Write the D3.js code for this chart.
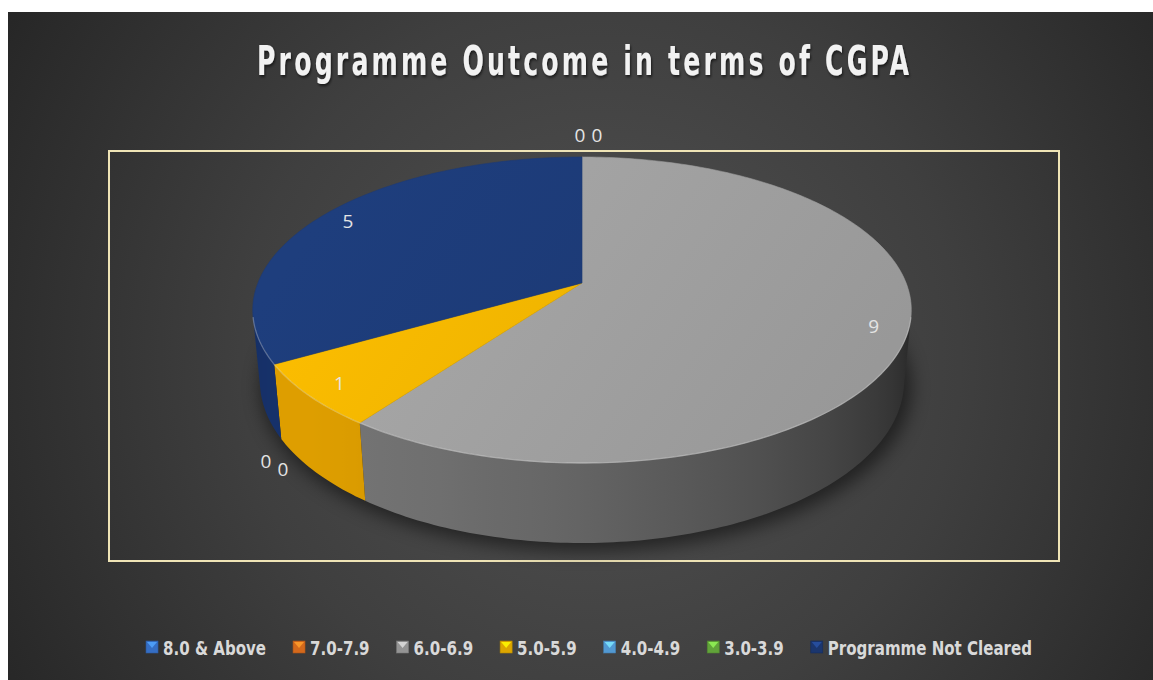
<!DOCTYPE html>
<html>
<head>
<meta charset="utf-8">
<script src="https://cdn.jsdelivr.net/npm/d3@7"></script>
<style>
  html, body { margin: 0; padding: 0; background: #fff; overflow: hidden; }
  svg { display: block; }
</style>
</head>
<body>
<svg id="chart" width="1153" height="680"></svg>
<script>
// ---- data ----
const chartTitle = "Programme Outcome in terms of CGPA";
const categories = ["8.0 & Above", "7.0-7.9", "6.0-6.9", "5.0-5.9", "4.0-4.9", "3.0-3.9", "Programme Not Cleared"];
const counts = [0, 0, 9, 1, 0, 0, 5];
const topColors = ["#3a78d6", "#e8731f", "#a2a2a2", "#f2b600", "#5aa7e6", "#6ab23f", "#1d3b78"];
const sideColors = ["#2a5fb0", "#c0600f", "#757575", "#de9e00", "#4a8fcc", "#58983a", "#16316a"];

// ---- canvas ----
const W = 1153, H = 680;
const svg = d3.select("#chart");
const defs = svg.append("defs");

svg.append("rect").attr("width", W).attr("height", H).attr("fill", "#ffffff");

const bg = defs.append("radialGradient").attr("id", "bgGrad")
  .attr("gradientUnits", "userSpaceOnUse")
  .attr("cx", 600).attr("cy", 360).attr("r", 720);
bg.append("stop").attr("offset", 0).attr("stop-color", "#525252");
bg.append("stop").attr("offset", 0.5).attr("stop-color", "#3f3f3f");
bg.append("stop").attr("offset", 1).attr("stop-color", "#242424");
svg.append("rect").attr("x", 8).attr("y", 12).attr("width", W - 8).attr("height", H - 12)
  .attr("fill", "url(#bgGrad)");

// plot area frame
svg.append("rect").attr("x", 109).attr("y", 151).attr("width", 950).attr("height", 410)
  .attr("fill", "none").attr("stroke", "#efe4b6").attr("stroke-width", 2);

// ---- title: narrow glyphs, widely spaced ----
const tShadow = defs.append("filter").attr("id", "titleShadow")
  .attr("x", "-5%").attr("y", "-30%").attr("width", "110%").attr("height", "160%");
tShadow.append("feDropShadow").attr("dx", 1.5).attr("dy", 2).attr("stdDeviation", 1.5)
  .attr("flood-color", "#000").attr("flood-opacity", 0.6);

const titleSqueeze = 0.7, titleWidth = 652;
svg.append("g")
  .attr("transform", `translate(583,75) scale(${titleSqueeze},1)`)
  .append("text")
  .attr("x", 0).attr("y", 0)
  .attr("text-anchor", "middle")
  .attr("font-family", "'DejaVu Sans Condensed', 'DejaVu Sans', sans-serif")
  .attr("font-stretch", "condensed")
  .attr("font-weight", "bold")
  .attr("font-size", 40)
  .attr("textLength", titleWidth / titleSqueeze)
  .attr("lengthAdjust", "spacing")
  .attr("fill", "#f2f2f2")
  .attr("filter", "url(#titleShadow)")
  .text(chartTitle);

// ---- 3D pie projection ----
// The pie is a unit cylinder (top face at z = 0, bottom at z = -depth),
// seen from an elevated camera with perspective.
const P = { cx: 582, cy: 283, fx: 1640, fy: 1667, dist: 5.06, sinA: 0.45, cosA: 0.893, depth: 0.243 };

function project(t, r, z) {
  const x = r * Math.sin(t), y = r * Math.cos(t);
  const v = y * P.sinA + z * P.cosA;
  const w = y * P.cosA - z * P.sinA;
  const d = P.dist + w;
  return [P.cx + P.fx * x / d, P.cy - P.fy * v / d];
}
function arcPoints(a0, a1, r, z) {
  const n = Math.max(2, Math.ceil(Math.abs(a1 - a0) / (Math.PI / 180)));
  return d3.range(n + 1).map(i => project(a0 + (a1 - a0) * i / n, r, z));
}

const pieGen = d3.pie().sort(null).value(d => d).startAngle(0).endAngle(2 * Math.PI);
const arcs = pieGen(counts);
const line = d3.line();

// soft shadow under the pie
const blur = defs.append("filter").attr("id", "pieShadow")
  .attr("x", "-20%").attr("y", "-40%").attr("width", "140%").attr("height", "180%");
blur.append("feGaussianBlur").attr("stdDeviation", 9);
svg.append("path")
  .attr("d", line(arcPoints(0, 2 * Math.PI, 1.01, -P.depth)) + "Z")
  .attr("transform", "translate(4,6)")
  .attr("fill", "#000").attr("opacity", 0.5)
  .attr("filter", "url(#pieShadow)");

// visible part of the outer wall: angles whose wall faces the camera
const rimLimit = Math.acos(-1 / (P.dist * P.cosA));
const lightX = -0.8, lightY = -0.6;
function wallShade(t) {
  const dot = Math.sin(t) * lightX + Math.cos(t) * lightY;
  return Math.max(0.3, Math.min(1, 0.62 + 0.38 * dot));
}

const walls = [];
arcs.forEach((a, i) => {
  if (a.value <= 0) return;
  const s = Math.max(a.startAngle, rimLimit);
  const e = Math.min(a.endAngle, 2 * Math.PI - rimLimit);
  if (e <= s) return;
  const topPts = arcPoints(s, e, 1, 0);
  const botPts = arcPoints(e, s, 1, -P.depth);
  const xs = topPts.map(p => p[0]);
  const x1 = d3.min(xs), x2 = d3.max(xs);
  const g = defs.append("linearGradient").attr("id", "wall" + i)
    .attr("gradientUnits", "userSpaceOnUse")
    .attr("x1", x1).attr("y1", 0).attr("x2", x2).attr("y2", 0);
  const stops = d3.range(17).map(j => {
    const t = s + (e - s) * j / 16;
    const x = project(t, 1, -P.depth / 2)[0];
    return { off: x2 > x1 ? (x - x1) / (x2 - x1) : 0, col: d3.interpolateRgb("#000000", sideColors[i])(wallShade(t)) };
  }).sort((p, q) => p.off - q.off);
  stops.forEach(st => g.append("stop").attr("offset", Math.max(0, Math.min(1, st.off))).attr("stop-color", st.col));
  walls.push({ i, d: line([...topPts, ...botPts]) + "Z" });
});
svg.append("g").selectAll("path").data(walls).join("path")
  .attr("d", d => d.d)
  .attr("fill", d => `url(#wall${d.i})`);

// top faces
arcs.forEach((a, i) => {
  const g = defs.append("linearGradient").attr("id", "top" + i)
    .attr("gradientUnits", "userSpaceOnUse")
    .attr("x1", P.cx - 220).attr("y1", 157).attr("x2", P.cx + 220).attr("y2", 470);
  const c = d3.color(topColors[i]);
  g.append("stop").attr("offset", 0).attr("stop-color", c.brighter(0.12));
  g.append("stop").attr("offset", 1).attr("stop-color", c.darker(0.18));
});
svg.append("g").selectAll("path").data(arcs.filter(a => a.value > 0)).join("path")
  .attr("d", a => line([project(0, 0, 0), ...arcPoints(a.startAngle, a.endAngle, 1, 0)]) + "Z")
  .attr("fill", a => `url(#top${a.index})`)
  .attr("stroke", a => d3.color(topColors[a.index]).darker(0.1))
  .attr("stroke-width", 0.6);

// rim highlight on the near edge of the top face
svg.append("path")
  .attr("d", line(arcPoints(rimLimit, 2 * Math.PI - rimLimit, 1, 0)))
  .attr("fill", "none").attr("stroke", "rgba(255,255,255,0.28)").attr("stroke-width", 1.3);

// ---- data labels ----
const labelFont = "'Open Sans', 'Noto Sans', sans-serif";
const labels = [];
const zeroRuns = {};
arcs.forEach(a => {
  const mid = (a.startAngle + a.endAngle) / 2;
  if (a.value > 0) {
    const [x, y] = project(mid, 0.9, 0);
    labels.push({ x, y, text: a.value });
  } else {
    const key = a.startAngle.toFixed(4);
    const idx = zeroRuns[key] = (zeroRuns[key] === undefined ? 0 : zeroRuns[key] + 1);
    const front = Math.cos(mid) < 0;
    const [x, y] = project(mid, 1.04, front ? -P.depth : 0);
    labels.push({
      x: x - 2 + 17 * idx,
      y: y + (front ? 18 + 8 * idx : -18),
      text: a.value
    });
  }
});
svg.append("g").selectAll("text").data(labels).join("text")
  .attr("x", d => d.x).attr("y", d => d.y)
  .attr("dy", "0.36em")
  .attr("text-anchor", "middle")
  .attr("font-family", labelFont)
  .attr("font-size", 19)
  .attr("fill", "#e4e4e4")
  .text(d => d.text);

// ---- legend ----
const legendFont = "'DejaVu Sans Condensed', 'DejaVu Sans', sans-serif";
const legendSize = 19, condense = 0.88, markerSize = 12, markerGap = 5, itemGap = 27;
const legend = svg.append("g");
const items = categories.map((name, i) => {
  const t = legend.append("text")
    .attr("font-family", legendFont).attr("font-stretch", "condensed")
    .attr("font-weight", "bold").attr("font-size", legendSize)
    .attr("fill", "#d9d9d9").text(name);
  const natural = t.node().getComputedTextLength();
  return { name, i, node: t, width: natural * condense };
});
const total = d3.sum(items, d => markerSize + markerGap + d.width) + itemGap * (items.length - 1);
let lx = 589 - total / 2;
const baseY = 655;
items.forEach(d => {
  const base = d3.color(topColors[d.i]);
  const mg = legend.append("g").attr("transform", `translate(${lx},${baseY - 14})`);
  mg.append("rect").attr("width", markerSize).attr("height", markerSize)
    .attr("fill", base.darker(0.25)).attr("stroke", base.darker(0.8)).attr("stroke-width", 0.6);
  mg.append("path")
    .attr("d", line([[1, 1], [markerSize - 1, 1], [markerSize / 2, markerSize / 2 + 1]]) + "Z")
    .attr("fill", base.brighter(0.9)).attr("opacity", 0.85);
  d.node.attr("x", lx + markerSize + markerGap).attr("y", baseY)
    .attr("textLength", d.width).attr("lengthAdjust", "spacingAndGlyphs");
  lx += markerSize + markerGap + d.width + itemGap;
});
</script>
</body>
</html>
